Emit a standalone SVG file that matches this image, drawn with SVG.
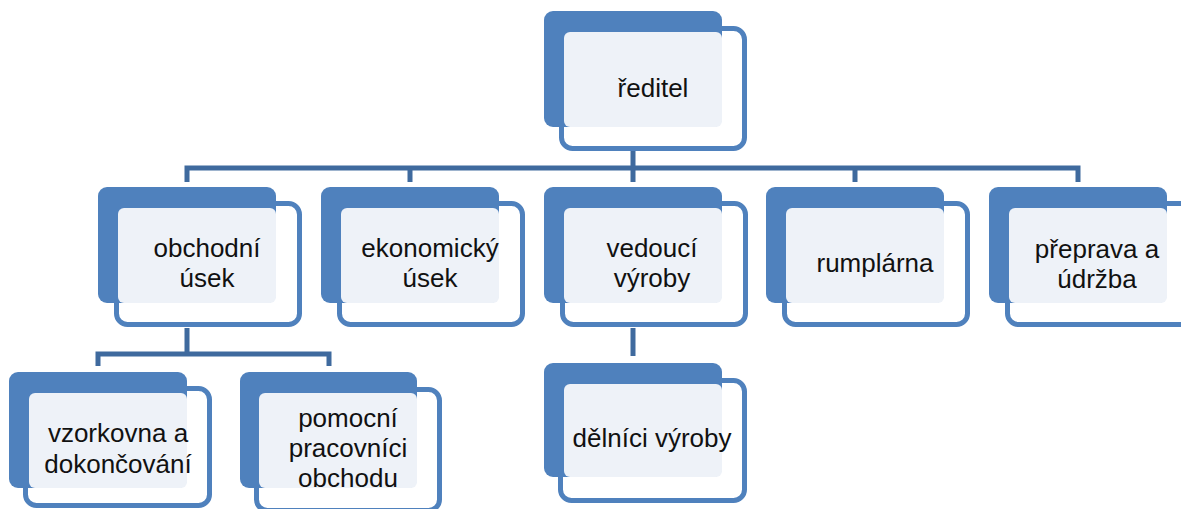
<svg xmlns="http://www.w3.org/2000/svg" width="1181" height="509" viewBox="0 0 1181 509">
<defs>
<style>
.back{fill:#4F81BD}
.front{fill:#FFFFFF;stroke:#4F81BD;stroke-width:5}
.light{fill:#EEF2F8}
.conn{fill:none;stroke:#3F6A9E;stroke-width:5}
.ghost{fill:none;stroke:#DCE5F1;stroke-width:5}
text{font-family:"Liberation Sans",Arial,sans-serif;font-size:26px;fill:#111111;text-anchor:middle}
</style>
</defs>
<rect width="1181" height="509" fill="#FFFFFF"/>
<g id="connectors">
<path class="ghost" d="M633,129 V147 M187,305 V323 M633,305 V323"/>
<path class="conn" d="M633,150 V168 M187,182 V168 H1078 V182 M410,168 V182 M633,168 V182 M855,168 V182"/>
<path class="conn" d="M187,328 V354 M98,366 V354 H329 V366"/>
<path class="conn" d="M633,328 V356"/>
</g>
<g id="node-reditel">
<rect class="front" x="561.5" y="28.5" width="183" height="120" rx="11"/>
<rect class="back" x="544" y="11" width="178" height="116" rx="9"/>
<rect class="light" x="564" y="32" width="158" height="95" rx="6"/>
<text x="653" y="97">ředitel</text>
</g>
<g id="node-obchodni">
<rect class="front" x="116.5" y="203.5" width="183" height="121" rx="11"/>
<rect class="back" x="98" y="187" width="178" height="116" rx="9"/>
<rect class="light" x="118" y="208" width="158" height="95" rx="6"/>
<text x="207" y="257">obchodní</text>
<text x="207" y="287">úsek</text>
</g>
<g id="node-ekonomicky">
<rect class="front" x="339.5" y="203.5" width="183" height="121" rx="11"/>
<rect class="back" x="321" y="187" width="178" height="116" rx="9"/>
<rect class="light" x="341" y="208" width="158" height="95" rx="6"/>
<text x="430" y="257">ekonomický</text>
<text x="430" y="287">úsek</text>
</g>
<g id="node-vedouci">
<rect class="front" x="562.5" y="203.5" width="183" height="121" rx="11"/>
<rect class="back" x="544" y="187" width="178" height="116" rx="9"/>
<rect class="light" x="564" y="208" width="158" height="95" rx="6"/>
<text x="652" y="257">vedoucí</text>
<text x="652" y="287">výroby</text>
</g>
<g id="node-rumplarna">
<rect class="front" x="784.5" y="203.5" width="183" height="121" rx="11"/>
<rect class="back" x="766" y="187" width="178" height="116" rx="9"/>
<rect class="light" x="786" y="208" width="158" height="95" rx="6"/>
<text x="875" y="272">rumplárna</text>
</g>
<g id="node-preprava">
<rect class="front" x="1007.5" y="203.5" width="183" height="121" rx="11"/>
<rect class="back" x="989" y="187" width="178" height="116" rx="9"/>
<rect class="light" x="1009" y="208" width="158" height="95" rx="6"/>
<text x="1097" y="258">přeprava a</text>
<text x="1097" y="288">údržba</text>
</g>
<g id="node-vzorkovna">
<rect class="front" x="25.5" y="388.5" width="184" height="117" rx="11"/>
<rect class="back" x="9" y="372" width="178" height="116" rx="9"/>
<rect class="light" x="29" y="393" width="158" height="95" rx="6"/>
<text x="118" y="442">vzorkovna a</text>
<text x="118" y="473">dokončování</text>
</g>
<g id="node-pomocni">
<rect class="front" x="256.5" y="389.5" width="183" height="121" rx="11"/>
<rect class="back" x="240" y="372" width="177" height="116" rx="9"/>
<rect class="light" x="259" y="393" width="158" height="95" rx="6"/>
<text x="348" y="427">pomocní</text>
<text x="348" y="457">pracovníci</text>
<text x="348" y="487">obchodu</text>
</g>
<g id="node-delnici">
<rect class="front" x="560.5" y="380.5" width="184" height="120" rx="11"/>
<rect class="back" x="544" y="363" width="178" height="114" rx="9"/>
<rect class="light" x="564" y="384" width="158" height="93" rx="6"/>
<text x="652" y="447">dělníci výroby</text>
</g>
</svg>
